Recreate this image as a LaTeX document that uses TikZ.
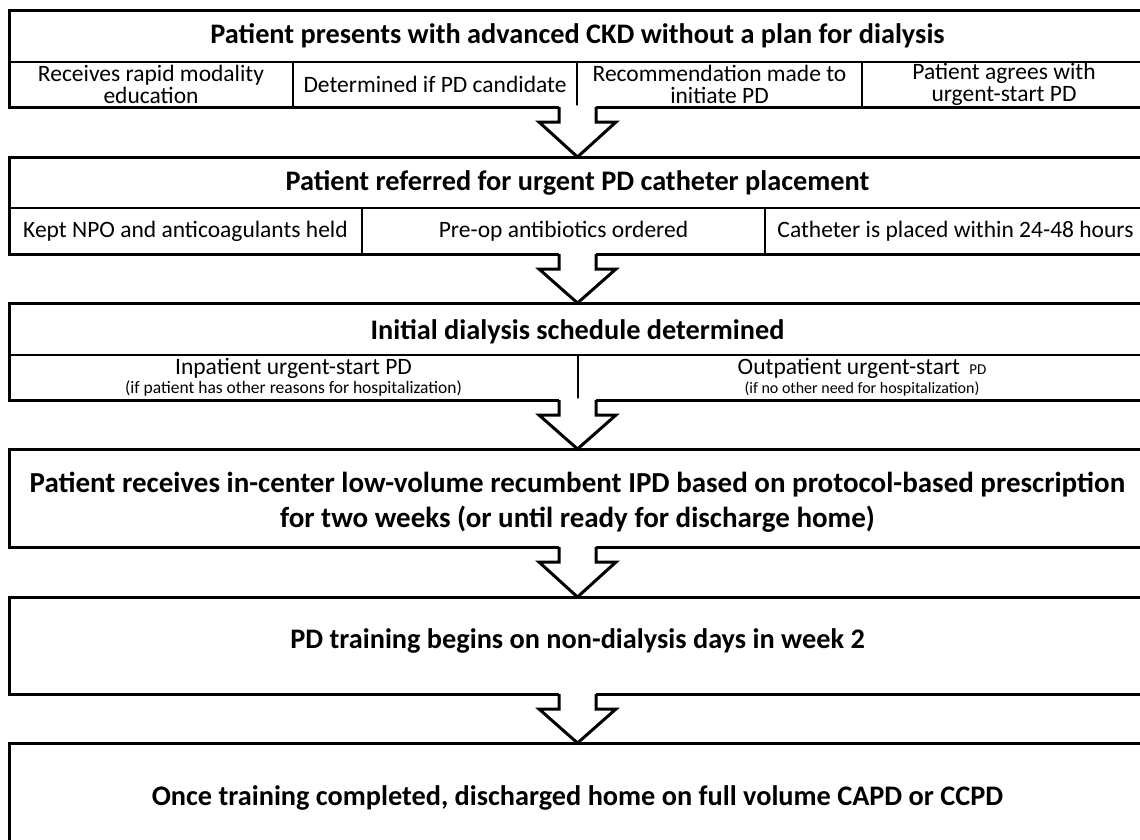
\documentclass[tikz,border=0pt]{standalone}
\usepackage{fontspec}
\setmainfont{Carlito}
\usetikzlibrary{calc}

% hollow block arrow from the bottom of one frame to the top of the next
\newcommand\flowarrow[2]{%
  \fill[white] let \p1=(#1.south), \p2=(#2.north) in
    (\x1-18.5pt,\y1+1.7pt) -- (\x1-18.5pt,\y1-15pt) -- (\x1-38.5pt,\y1-15pt)
    -- (\x2,\y2) -- (\x1+38.5pt,\y1-15pt) -- (\x1+18.5pt,\y1-15pt)
    -- (\x1+18.5pt,\y1+1.7pt) -- cycle;
  \draw[flow] let \p1=(#1.south), \p2=(#2.north) in
    (\x1-18.5pt,\y1) -- (\x1-18.5pt,\y1-15pt) -- (\x1-38.5pt,\y1-15pt)
    -- (\x2,\y2) -- (\x1+38.5pt,\y1-15pt) -- (\x1+18.5pt,\y1-15pt)
    -- (\x1+18.5pt,\y1);
}

\begin{document}
\begin{tikzpicture}[x=1pt,y=-1pt,
  frame/.style={draw=black,line width=3pt,inner sep=0pt,outer sep=0pt,
    anchor=north west,minimum width=1137pt},
  rule/.style={line width=2.6pt},
  flow/.style={line width=3pt,line join=miter},
  ttl/.style={font=\bfseries\fontsize{28.3}{35}\selectfont,align=center,inner sep=0pt},
  cell/.style={font=\fontsize{23.5}{22}\selectfont,align=center,inner sep=0pt},
  note/.style={font=\fontsize{17.5}{18}\selectfont,inner sep=0pt}
]
\clip (0,0) rectangle (1140,839);
\fill[white] (0,0) rectangle (1140,839);

% ---- stage 1 ----
\node[frame,minimum height=97pt] (b1) at (9,10) {};
\draw[rule] (9,62) -- (1146,62);
\draw[rule] (293,62) -- (293,107) (577,62) -- (577,107) (862,62) -- (862,107);
\node[ttl] (t1) at (577.5,36) {Patient presents with advanced CKD without a plan for dialysis};
\node[cell] (c11) at (151,84) {Receives rapid modality\\education};
\node[cell] (c12) at (435,84) {Determined if PD candidate};
\node[cell] (c13) at (719.5,84) {Recommendation made to\\initiate PD};
\node[cell] (c14) at (1004,84) {Patient agrees with\\urgent-start PD};

% ---- stage 2 ----
\node[frame,minimum height=97pt] (b2) at (9,157) {};
\draw[rule] (9,208) -- (1146,208);
\draw[rule] (362,208) -- (362,254) (765,208) -- (765,254);
\node[ttl] (t2) at (577.5,183) {Patient referred for urgent PD catheter placement};
\node[cell] (c21) at (185.5,231) {Kept NPO and anticoagulants held};
\node[cell] (c22) at (563.5,231) {Pre-op antibiotics ordered};
\node[cell] (c23) at (955.5,231) {Catheter is placed within 24-48 hours};

% ---- stage 3 ----
\node[frame,minimum height=97pt] (b3) at (9,303) {};
\draw[rule] (9,355) -- (1146,355);
\draw[rule] (578,355) -- (578,400);
\node[ttl] (t3) at (577.5,332) {Initial dialysis schedule determined};
\node[cell] (c31) at (293.5,368) {Inpatient urgent-start PD};
\node[note] (n31) at (293.5,389) {(if patient has other reasons for hospitalization)};
\node[cell] (c32) at (862,368) {Outpatient urgent-start \,{\fontsize{15}{16}\selectfont PD}};
\node[note,font=\fontsize{16}{17}\selectfont] (n32) at (862,389) {(if no other need for hospitalization)};

% ---- stage 4 ----
\node[frame,minimum height=98pt] (b4) at (9,449) {};
\node[ttl,font=\bfseries\fontsize{29}{35}\selectfont] (t4) at (577.5,502) {Patient receives in-center low-volume recumbent IPD based on protocol-based prescription\\for two weeks (or until ready for discharge home)};

% ---- stage 5 ----
\node[frame,minimum height=97pt] (b5) at (9,597) {};
\node[ttl] (t5) at (577.5,641) {PD training begins on non-dialysis days in week 2};

% ---- stage 6 ----
\node[frame,minimum height=105pt] (b6) at (9,743) {};
\node[ttl] (t6) at (577.5,798) {Once training completed, discharged home on full volume CAPD or CCPD};

% ---- connectors ----
\flowarrow{b1}{b2}
\flowarrow{b2}{b3}
\flowarrow{b3}{b4}
\flowarrow{b4}{b5}
\flowarrow{b5}{b6}
\end{tikzpicture}
\end{document}
